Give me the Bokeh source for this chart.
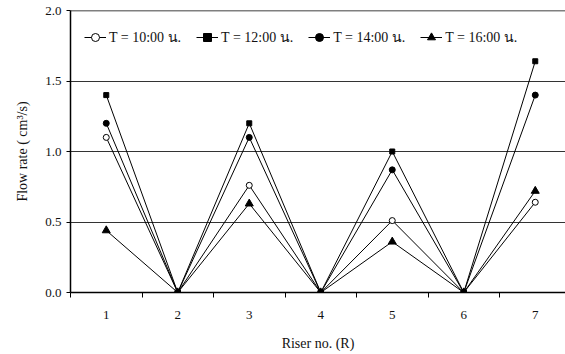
from bokeh.plotting import figure
from bokeh.models import FixedTicker, Legend, LegendItem, Range1d, Span, CustomJSTickFormatter
from bokeh.embed import file_html
from bokeh.resources import INLINE

# Riser numbers and measured flow rates (cm^3/s) at four times of day
risers = [1, 2, 3, 4, 5, 6, 7]
flow_1000 = [1.10, 0.0, 0.76, 0.0, 0.51, 0.0, 0.64]
flow_1200 = [1.40, 0.0, 1.20, 0.0, 1.00, 0.0, 1.64]
flow_1400 = [1.20, 0.0, 1.10, 0.0, 0.87, 0.0, 1.40]
flow_1600 = [0.44, 0.0, 0.63, 0.0, 0.36, 0.0, 0.72]
labels = ["T = 10:00 น.", "T = 12:00 น.", "T = 14:00 น.", "T = 16:00 น."]
y_ticks = [0.0, 0.5, 1.0, 1.5, 2.0]

FONT = "'Liberation Serif', 'Times New Roman', Times, serif"

p = figure(width=565, height=354, output_backend="svg", toolbar_location=None,
           x_range=Range1d(0.5, 7.423), y_range=Range1d(0, 2.0),
           min_border_left=70, min_border_right=0, min_border_top=10,
           min_border_bottom=62)
p.outline_line_color = None
p.background_fill_color = "white"

# x axis: labels at each riser, short ticks between them
p.xaxis.ticker = FixedTicker(ticks=risers,
                             minor_ticks=[r - 0.5 for r in risers] + [7.5])
p.xaxis.major_tick_out = 0
p.xaxis.major_tick_in = 0
p.xaxis.minor_tick_out = 5
p.xaxis.minor_tick_in = 0
p.xaxis.minor_tick_line_color = "black"
p.xaxis.major_label_standoff = 13
p.xaxis.axis_label = "Riser no. (R)"
p.xaxis.axis_label_standoff = 14

p.yaxis.ticker = FixedTicker(ticks=y_ticks)
p.yaxis.minor_tick_line_color = None
p.yaxis.major_tick_out = 4
p.yaxis.major_tick_in = 0
p.yaxis.major_label_standoff = 5
p.yaxis.axis_label = "Flow rate ( cm³/s)"
p.yaxis.axis_label_standoff = 12
p.yaxis.formatter = CustomJSTickFormatter(code="return tick.toFixed(1);")

for ax in (p.xaxis, p.yaxis):
    ax.axis_line_color = "black"
    ax.axis_line_width = 1.5
    ax.major_tick_line_color = "black"
    ax.major_label_text_font = FONT
    ax.major_label_text_font_size = "13px"
    ax.major_label_text_color = "#111111"
    ax.axis_label_text_font = FONT
    ax.axis_label_text_font_size = "14px"
    ax.axis_label_text_font_style = "normal"
    ax.axis_label_text_color = "#111111"

p.xgrid.grid_line_color = None
p.ygrid.ticker = FixedTicker(ticks=[0.5, 1.0, 1.5, 2.0])
p.ygrid.grid_line_color = "#333333"
p.ygrid.grid_line_width = 1

p.add_layout(Span(location=2.0, dimension="width", line_color="black",
                  line_width=1.5))

items = []
series = [
    (flow_1000, "circle", 6, "white"),
    (flow_1200, "square", 5, "black"),
    (flow_1400, "circle", 6, "black"),
    (flow_1600, "triangle", 8, "black"),
]
for (vals, marker, size, fill), lab in zip(series, labels):
    ln = p.line(risers, vals, line_color="black", line_width=1)
    sc = p.scatter(risers, vals, marker=marker, size=size, fill_color=fill,
                   line_color="black", line_width=1)
    items.append(LegendItem(label=lab, renderers=[ln, sc]))

legend = Legend(items=items, orientation="horizontal", location=(14, 244),
                padding=0, margin=0, spacing=15, glyph_width=22,
                glyph_height=20, label_standoff=3,
                label_text_font=FONT, label_text_font_size="14px",
                label_text_color="#111111",
                background_fill_alpha=0, border_line_color=None)
p.add_layout(legend)

open("out.html", "w").write(file_html(p, INLINE))
